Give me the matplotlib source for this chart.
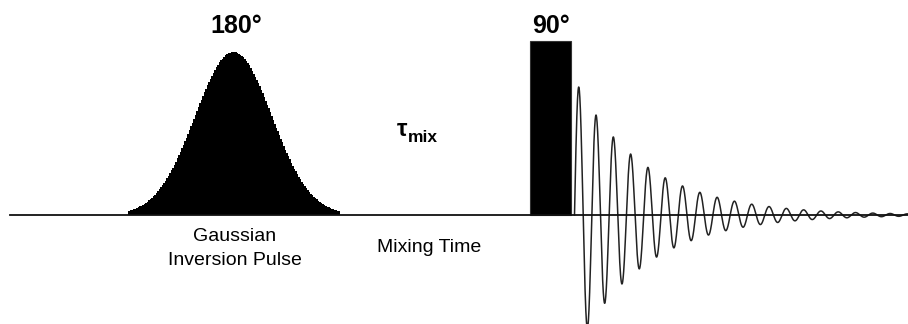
import numpy as np
import matplotlib
matplotlib.use("Agg")
import matplotlib.pyplot as plt
from matplotlib.patches import Rectangle

plt.rcParams['font.family'] = ['Liberation Sans', 'DejaVu Sans']

# time axis in figure pixels, amplitude as height above the baseline
t_start, t_end = 10, 908

# 180 degree gaussian inversion pulse
gauss_center = 233.5
gauss_sigma = 38.5
gauss_height = 163
gauss_from, gauss_to = 128, 339

# 90 degree hard pulse
hard_from, hard_to = 530, 570.5
hard_height = 174

# free induction decay
fid_start = 574.5
fid_period = 17.3
fid_amp = 136
fid_decay = 70

labels = ["180°", "90°", "Gaussian", "Inversion Pulse", "Mixing Time"]

fig = plt.figure(figsize=(9.08, 3.24), dpi=100)
ax = fig.add_axes([0, 0, 1, 1])
ax.set_xlim(0, 908)
ax.set_ylim(-109, 215)
ax.axis("off")

# baseline
ax.plot([t_start, t_end], [0, 0], color="#111111", lw=1.3, zorder=3)

# gaussian pulse
xg = np.arange(gauss_from, gauss_to + 1, 1.5)
yg = gauss_height * np.exp(-0.5 * ((xg - gauss_center) / gauss_sigma) ** 2)
ax.fill_between(xg, 0, yg, step="mid", color="black", lw=0)

# hard pulse
ax.add_patch(Rectangle((hard_from, 0), hard_to - hard_from, hard_height,
                       facecolor="black", edgecolor="#333333", lw=0.8))

# FID
xf = np.linspace(fid_start, t_end, 3000)
yf = fid_amp * np.exp(-(xf - fid_start) / fid_decay) * np.sin(2 * np.pi * (xf - fid_start) / fid_period)
ax.plot(xf, yf, color="#222222", lw=1.1)

# labels
ax.text(236, 182, labels[0], ha="center", va="baseline", fontsize=18, fontweight="bold")
ax.text(551, 182, labels[1], ha="center", va="baseline", fontsize=18, fontweight="bold")
ax.text(235, -26, labels[2], ha="center", va="baseline", fontsize=14)
ax.text(235, -50, labels[3], ha="center", va="baseline", fontsize=14)
ax.text(429, -37, labels[4], ha="center", va="baseline", fontsize=14)
ax.text(397, 79, "τ", ha="left", va="baseline", fontsize=17, fontweight="bold")
ax.text(408, 73, "mix", ha="left", va="baseline", fontsize=12.5, fontweight="bold")

fig.savefig("out.png", dpi=100)
